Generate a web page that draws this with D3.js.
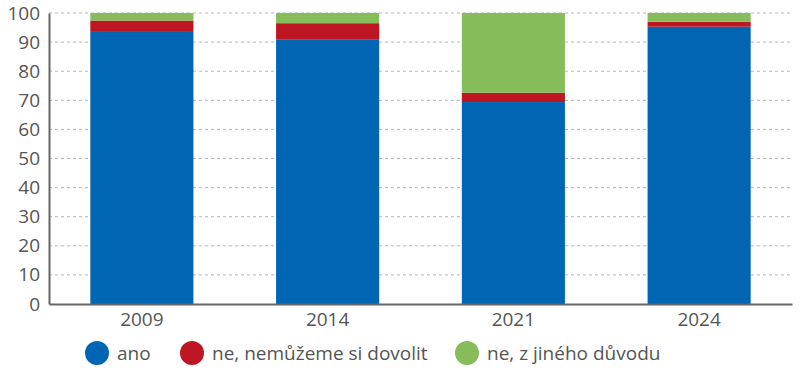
<!DOCTYPE html>
<html>
<head>
<meta charset="utf-8">
<script src="https://cdn.jsdelivr.net/npm/d3@7"></script>
<style>
body { margin: 0; background: #fff; }
text { font-family: "Open Sans", sans-serif; fill: #555; }
</style>
</head>
<body>
<script>
var years = ["2009", "2014", "2021", "2024"];
var ano = [93.8, 90.8, 69.4, 95.3];
var neDovolit = [3.6, 5.7, 3.2, 1.7];
var neJiny = [2.6, 3.5, 27.4, 3.0];
var seriesNames = ["ano", "ne, nemůžeme si dovolit", "ne, z jiného důvodu"];
var colors = ["#0066b3", "#be1622", "#86bd5a"];
var yTicks = [0, 10, 20, 30, 40, 50, 60, 70, 80, 90, 100];

var margin = {top: 13, right: 8, bottom: 71, left: 49},
    width = 800 - margin.left - margin.right,
    height = 375 - margin.top - margin.bottom;

var rows = years.map(function(y, i) {
    return {year: y, ano: ano[i], dovolit: neDovolit[i], jiny: neJiny[i]};
});
var keys = ["ano", "dovolit", "jiny"];
var stacked = d3.stack().keys(keys)(rows);

var svg = d3.select("body").append("svg")
    .attr("width", 800)
    .attr("height", 375);

var g = svg.append("g")
    .attr("transform", "translate(" + margin.left + "," + margin.top + ")");

var x = d3.scaleBand().domain(years).range([0, width]).paddingInner(0.445).paddingOuter(0.2225);
var y = d3.scaleLinear().domain([0, 100]).range([height, 0]);

// grid
g.append("g").selectAll("line")
    .data(yTicks.filter(function(d) { return d > 0; }))
    .enter().append("line")
    .attr("x1", 0).attr("x2", width)
    .attr("y1", function(d) { return y(d); })
    .attr("y2", function(d) { return y(d); })
    .attr("stroke", "#b5b5b5")
    .attr("stroke-width", 1)
    .attr("stroke-dasharray", "3,3");

// bars
g.append("g").selectAll("g")
    .data(stacked)
    .enter().append("g")
    .attr("fill", function(d, i) { return colors[i]; })
    .selectAll("rect")
    .data(function(d) { return d; })
    .enter().append("rect")
    .attr("x", function(d) { return x(d.data.year); })
    .attr("width", x.bandwidth())
    .attr("y", function(d) { return y(d[1]); })
    .attr("height", function(d) { return y(d[0]) - y(d[1]); });

// y axis
var yAxis = g.append("g")
    .call(d3.axisLeft(y).tickValues(yTicks).tickSize(0).tickPadding(9));
yAxis.select(".domain").attr("stroke", "#666").attr("stroke-width", 2);
yAxis.selectAll("text").style("font-size", "19px").attr("fill", "#555");

// x axis
var xAxis = g.append("g")
    .attr("transform", "translate(0," + height + ")")
    .call(d3.axisBottom(x).tickSize(0).tickPadding(9));
xAxis.select(".domain").attr("stroke", "#666").attr("stroke-width", 2);
xAxis.selectAll("text").style("font-size", "19px").attr("fill", "#555");

// legend
var legendX = [97, 192, 467];
var legend = svg.append("g").selectAll("g")
    .data(seriesNames)
    .enter().append("g")
    .attr("transform", function(d, i) { return "translate(" + legendX[i] + ",353)"; });
legend.append("circle")
    .attr("r", 12)
    .attr("fill", function(d, i) { return colors[i]; });
legend.append("text")
    .attr("x", 20)
    .attr("dy", "0.35em")
    .style("font-size", "19px")
    .text(function(d) { return d; });
</script>
</body>
</html>
